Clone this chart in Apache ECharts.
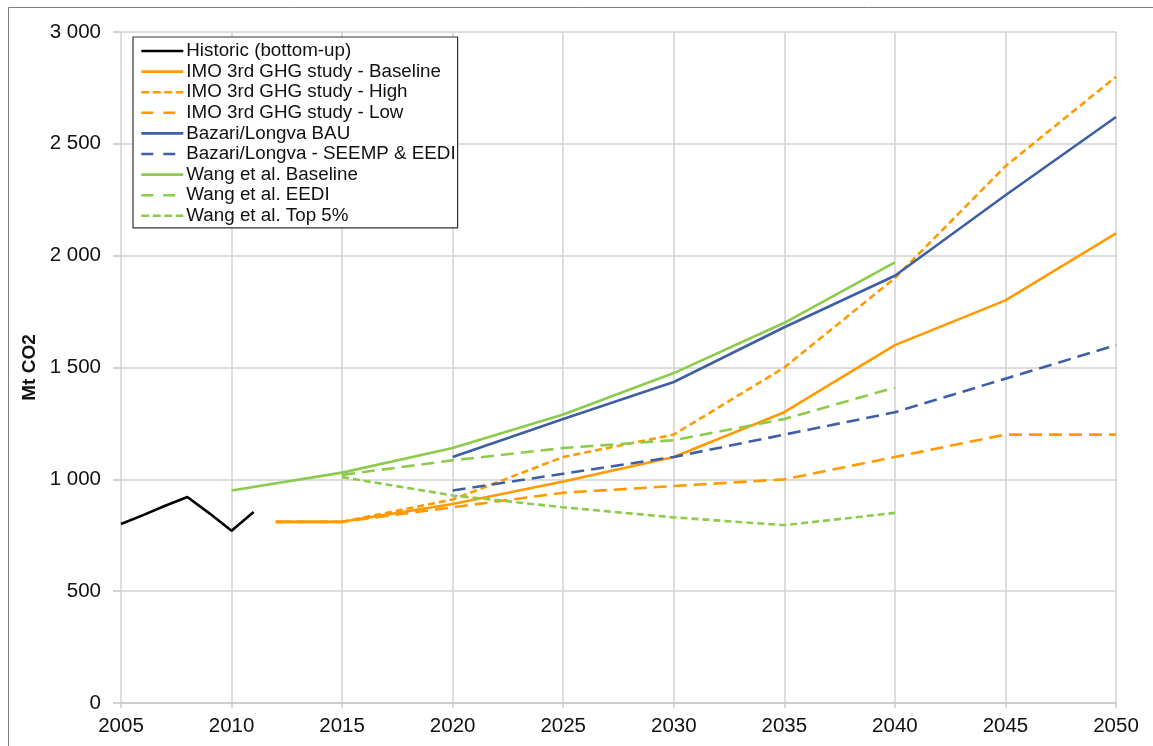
<!DOCTYPE html>
<html>
<head>
<meta charset="utf-8">
<script src="https://cdn.jsdelivr.net/npm/echarts@6/dist/echarts.min.js"></script>
<style>
html,body{margin:0;padding:0;background:#fff;}
#chart{width:1153px;height:746px;}
</style>
</head>
<body>
<div id="chart"></div>
<script>
// ---- data ----
const xTicks = [2005, 2010, 2015, 2020, 2025, 2030, 2035, 2040, 2045, 2050];
const yTicks = [0, 500, 1000, 1500, 2000, 2500, 3000];

const historicYears = [2005, 2006, 2007, 2008, 2009, 2010, 2011];
const historicValues = [800, 840, 882, 921, 848, 770, 854];

const imoYears = [2012, 2015, 2020, 2025, 2030, 2035, 2040, 2045, 2050];
const imoBaseline = [810, 810, 890, 990, 1100, 1300, 1600, 1800, 2100];
const imoHigh = [810, 810, 910, 1100, 1200, 1500, 1900, 2400, 2800];
const imoLow = [810, 810, 875, 940, 970, 1000, 1100, 1200, 1200];

const bazariYears = [2020, 2025, 2030, 2035, 2040, 2045, 2050];
const bazariBAU = [1100, 1270, 1435, 1680, 1910, 2270, 2620];
const bazariSEEMP = [950, 1025, 1100, 1200, 1300, 1450, 1600];

const wangBaseYears = [2010, 2015, 2020, 2025, 2030, 2035, 2040];
const wangBaseline = [950, 1030, 1140, 1290, 1475, 1700, 1970];
const wangYears = [2015, 2020, 2025, 2030, 2035, 2040];
const wangEEDI = [1020, 1085, 1140, 1175, 1270, 1410];
const wangTop5 = [1010, 928, 875, 830, 795, 850];

const seriesNames = [
  'Historic (bottom-up)',
  'IMO 3rd GHG study - Baseline',
  'IMO 3rd GHG study - High',
  'IMO 3rd GHG study - Low',
  'Bazari/Longva BAU',
  'Bazari/Longva - SEEMP & EEDI',
  'Wang et al. Baseline',
  'Wang et al. EEDI',
  'Wang et al. Top 5%'
];

// ---- styling ----
const BLACK = '#000000', ORANGE = '#FF9A00', BLUE = '#3E5FA6', GREEN = '#8CCB4C';
const LONG = [13, 7], SHORT = [7, 4];
const LEG_LONG = [12, 10], LEG_SHORT = [8, 3.5];
const FONT = 'Liberation Sans, Arial, sans-serif';

function pairs(xs, ys) { return xs.map((x, i) => [x, ys[i]]); }
function mk(name, xs, ys, color, dash, z) {
  return {
    name: name, type: 'line', data: pairs(xs, ys),
    symbol: 'none', smooth: false, z: z || 2,
    lineStyle: { color: color, width: 2.6, type: dash || 'solid', cap: 'butt' },
    itemStyle: { color: color },
    emphasis: { disabled: true }
  };
}

const specs = [
  [historicYears, historicValues, BLACK, null, null],
  [imoYears, imoBaseline, ORANGE, null, null],
  [imoYears, imoHigh, ORANGE, SHORT, LEG_SHORT],
  [imoYears, imoLow, ORANGE, LONG, LEG_LONG],
  [bazariYears, bazariBAU, BLUE, null, null],
  [bazariYears, bazariSEEMP, BLUE, LONG, LEG_LONG],
  [wangBaseYears, wangBaseline, GREEN, null, null],
  [wangYears, wangEEDI, GREEN, LONG, LEG_LONG],
  [wangYears, wangTop5, GREEN, SHORT, LEG_SHORT]
];

const series = specs.map((s, i) => mk(seriesNames[i], s[0], s[1], s[2], s[3]));
const legendData = specs.map((s, i) => ({
  name: seriesNames[i],
  lineStyle: { color: s[2], width: 2.6, type: s[4] || 'solid', cap: 'butt' }
}));

function fmtThousands(v) {
  return String(v).replace(/\B(?=(\d{3})+(?!\d))/g, ' ');
}

const chart = echarts.init(document.getElementById('chart'), null, { renderer: 'canvas' });
chart.setOption({
  animation: false,
  backgroundColor: '#ffffff',
  textStyle: { fontFamily: FONT },
  grid: { left: 121, right: 37, top: 32, bottom: 43, containLabel: false },
  graphic: [{
    type: 'rect', silent: true, z: -1,
    shape: { x: 8.5, y: 7.5, width: 1300, height: 900 },
    style: { fill: 'none', stroke: '#7f7f7f', lineWidth: 1 }
  }],
  legend: {
    orient: 'vertical', left: 133, top: 37,
    data: legendData,
    backgroundColor: '#ffffff',
    borderColor: '#333333', borderWidth: 1.2,
    padding: [4, 2, 2, 7],
    itemWidth: 42, itemHeight: 14, itemGap: 0.6,
    itemStyle: { opacity: 0 },
    lineStyle: { width: 2.6 },
    textStyle: { fontFamily: FONT, fontSize: 18.8, color: '#111', lineHeight: 20, padding: [0, 0, 0, -2] },
    selectedMode: false
  },
  xAxis: {
    type: 'value', min: 2005, max: 2050, interval: 5,
    axisLine: { show: true, lineStyle: { color: '#c8c8c8', width: 1.5 } },
    axisTick: { show: true, length: 5, lineStyle: { color: '#c8c8c8', width: 1.5 } },
    splitLine: { show: true, lineStyle: { color: '#d2d2d2', width: 1.5 } },
    axisLabel: { fontFamily: FONT, fontSize: 20.5, color: '#111', margin: 13,
      formatter: v => xTicks.indexOf(v) >= 0 ? String(v) : '' }
  },
  yAxis: {
    type: 'value', min: 0, max: 3000, interval: 500,
    name: 'Mt CO2', nameLocation: 'middle', nameGap: 78, nameRotate: 90,
    nameTextStyle: { fontFamily: FONT, fontSize: 19, fontWeight: 'bold', color: '#111' },
    axisLine: { show: false },
    axisTick: { show: true, length: 8, lineStyle: { color: '#c8c8c8', width: 1.5 } },
    splitLine: { show: true, lineStyle: { color: '#d2d2d2', width: 1.5 } },
    axisLabel: { fontFamily: FONT, fontSize: 20.5, color: '#111', margin: 20,
      formatter: v => yTicks.indexOf(v) >= 0 ? fmtThousands(v) : '' }
  },
  series: series
});
</script>
</body>
</html>
